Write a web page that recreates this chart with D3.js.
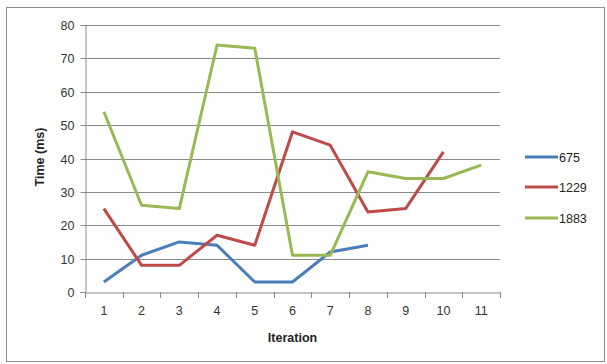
<!DOCTYPE html>
<html><head><meta charset="utf-8">
<script src="https://cdn.jsdelivr.net/npm/d3@7"></script>
<style>body{margin:0;background:#fff}svg{display:block}</style>
</head><body>
<script>
const categories = ["1","2","3","4","5","6","7","8","9","10","11"];
const seriesNames = ["675","1229","1883"];
const s675 = [3,11,15,14,3,3,12,14];
const s1229 = [25,8,8,17,14,48,44,24,25,42];
const s1883 = [54,26,25,74,73,11,11,36,34,34,38];
const yTicks = [0,10,20,30,40,50,60,70,80];
const colors = ["#4a7ebb","#be4b48","#98b954"];
const allSeries = [s675,s1229,s1883];

const W=607,H=364;
const svg=d3.select("body").append("svg").attr("width",W).attr("height",H);
svg.append("rect").attr("x",6.5).attr("y",7.5).attr("width",598).attr("height",354)
  .attr("fill","#fff").attr("stroke","#8e8e8e");

const x=d3.scaleBand().domain(categories).range([85,500]);
const y=d3.scaleLinear().domain([0,80]).range([292,25]);

// gridlines
svg.append("g").selectAll("line").data(yTicks.filter(d=>d>0)).join("line")
  .attr("x1",85).attr("x2",500).attr("y1",d=>Math.round(y(d))+0.5).attr("y2",d=>Math.round(y(d))+0.5)
  .attr("stroke","#8a8a8a").attr("stroke-width",1);

const font="'Liberation Sans', Arial, sans-serif";
const yAxis=svg.append("g").attr("transform","translate(85.5,0)")
  .call(d3.axisLeft(y).tickValues(yTicks).tickSize(5).tickPadding(6).tickFormat(d3.format("d")));
yAxis.select(".domain").attr("stroke","#8a8a8a");
yAxis.selectAll(".tick line").attr("stroke","#8a8a8a");
yAxis.selectAll(".tick").attr("transform",d=>`translate(0,${Math.round(y(d))+0.5})`);
yAxis.selectAll("text").attr("font-family",font).attr("font-size",12.5).attr("fill","#333");

const xAxis=svg.append("g").attr("transform","translate(0,292.5)")
  .call(d3.axisBottom(x).tickSize(0).tickPadding(14));
xAxis.select(".domain").attr("stroke","#8a8a8a");
xAxis.selectAll("text").attr("font-family",font).attr("font-size",12.5).attr("fill","#333");
// tick marks at band boundaries
const bounds=categories.map(c=>x(c)).concat([x.range()[1]]);
svg.append("g").selectAll("line").data(bounds).join("line")
  .attr("x1",d=>Math.round(d)+0.5).attr("x2",d=>Math.round(d)+0.5).attr("y1",292).attr("y2",298)
  .attr("stroke","#8a8a8a");

const line=d3.line().x((d,i)=>x(categories[i])+x.bandwidth()/2).y(d=>y(d));
allSeries.forEach((s,k)=>{
  svg.append("path").datum(s).attr("d",line).attr("fill","none")
    .attr("stroke",colors[k]).attr("stroke-width",3).attr("stroke-linejoin","round");
});

svg.append("text").attr("transform","translate(44,157) rotate(-90)").attr("text-anchor","middle")
  .attr("font-family",font).attr("font-size",12.5).attr("font-weight","bold").attr("fill","#222").text("Time (ms)");
svg.append("text").attr("x",292.5).attr("y",342).attr("text-anchor","middle")
  .attr("font-family",font).attr("font-size",12.5).attr("font-weight","bold").attr("fill","#222").text("Iteration");

const legY=[157,187,218];
seriesNames.forEach((n,k)=>{
  svg.append("line").attr("x1",525).attr("x2",558).attr("y1",legY[k]).attr("y2",legY[k])
    .attr("stroke",colors[k]).attr("stroke-width",3);
  svg.append("text").attr("x",559).attr("y",legY[k]+4.5).attr("font-family",font).attr("font-size",12.5)
    .attr("fill","#222").text(n);
});
</script>
</body></html>
